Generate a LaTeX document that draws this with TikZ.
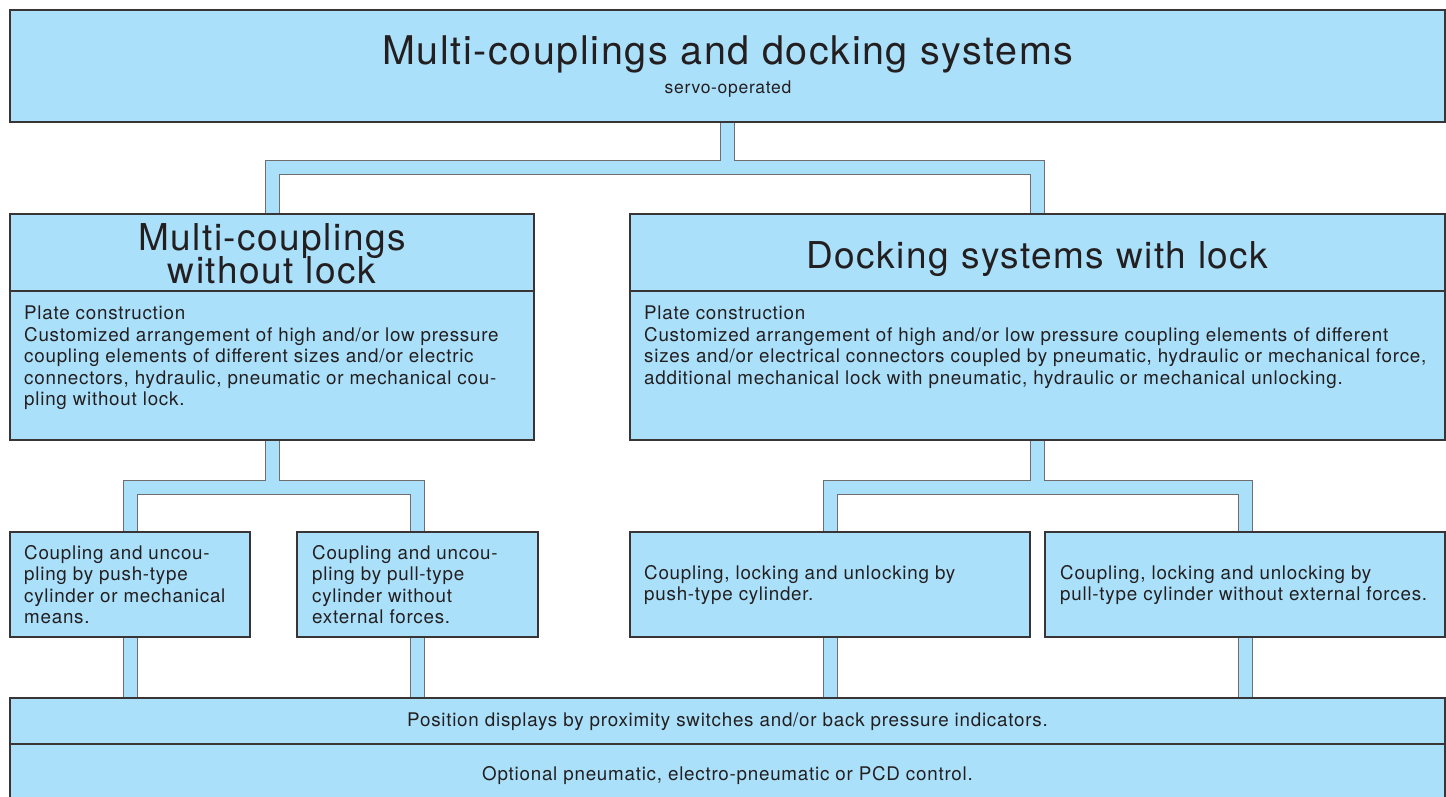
\documentclass[tikz,border=0pt]{standalone}
\usepackage{fontspec}
\setmainfont{TeX Gyre Heros}[LetterSpace=4]
\usepackage{tikz}
\usetikzlibrary{calc,backgrounds}
\definecolor{panelblue}{RGB}{171,224,250}
\definecolor{inkgray}{RGB}{35,31,32}

\begin{document}
\begin{tikzpicture}[x=1pt, y=-1pt,
    box/.style={draw=inkgray!90, line width=1.2pt, fill=panelblue, inner sep=0pt, text=inkgray},
    txt/.style={inner sep=0pt, anchor=north west, align=left, text=inkgray, font=\fontsize{18.8}{21.5}\selectfont},
    head/.style={inner sep=0pt, text=inkgray, align=center, font=\fontsize{37}{33}\selectfont},
    pipe/.style={draw=panelblue, line width=13pt, line join=miter, preaction={draw=inkgray!65, line width=15pt, line join=miter}}
]
\useasboundingbox (0,0) rectangle (1446,797);
\node[box, minimum width=1435pt, minimum height=112pt] (main) at (727.5,66) {};
\node[inner sep=0pt, anchor=base, text=inkgray, font=\fontsize{39.5}{40}\selectfont] (ttl) at (728,65) {Multi-couplings and docking systems};
\node[inner sep=0pt, anchor=base, text=inkgray, font=\fontsize{17.5}{20}\selectfont] (sub) at (728,94) {servo-operated};

\node[box, minimum width=524pt, minimum height=77pt] (hdL) at (272,252.5) {};
\node[box, minimum width=524pt, minimum height=149pt] (bodyL) at (272,365.5) {};
\node[head, anchor=north] (hdLtxt) at (272,223) {Multi-couplings\\[-2.4pt]without lock};
\node[txt] (txtL) at (24,306) {Plate construction\\Customized arrangement of high and/or low pressure\\coupling elements of different sizes and/or electric\\connectors, hydraulic, pneumatic or mechanical cou-\\pling without lock.};

\node[box, minimum width=815pt, minimum height=77pt] (hdR) at (1037.5,252.5) {};
\node[box, minimum width=815pt, minimum height=149pt] (bodyR) at (1037.5,365.5) {};
\node[head, anchor=base] (hdRtxt) at (1037.5,268) {Docking systems with lock};
\node[txt] (txtR) at (644,306) {Plate construction\\Customized arrangement of high and/or low pressure coupling elements of different\\sizes and/or electrical connectors coupled by pneumatic, hydraulic or mechanical force,\\additional mechanical lock with pneumatic, hydraulic or mechanical unlocking.};

\node[box, minimum width=240pt, minimum height=105pt] (push) at (130,584.5) {};
\node[txt] (pushtxt) at (24,545) {Coupling and uncou-\\pling by push-type\\cylinder or mechanical\\means.};
\node[box, minimum width=241pt, minimum height=105pt] (pull) at (417.5,584.5) {};
\node[txt] (pulltxt) at (312,545) {Coupling and uncou-\\pling by pull-type\\cylinder without\\external forces.};
\node[box, minimum width=400pt, minimum height=105pt] (lockpush) at (830,584.5) {};
\node[txt] (lockpushtxt) at (644,565) {Coupling, locking and unlocking by\\push-type cylinder.};
\node[box, minimum width=400pt, minimum height=105pt] (lockpull) at (1245,584.5) {};
\node[txt] (lockpulltxt) at (1060,565) {Coupling, locking and unlocking by\\pull-type cylinder without external forces.};

\node[box, minimum width=1435pt, minimum height=46pt] (pos) at (727.5,721) {};
\node[inner sep=0pt, text=inkgray, font=\fontsize{18.8}{21.5}\selectfont] (postxt) at (727.5,722) {Position displays by proximity switches and/or back pressure indicators.};
\node[box, minimum width=1435pt, minimum height=54pt] (ctrl) at (727.5,771) {};
\node[inner sep=0pt, text=inkgray, font=\fontsize{18.8}{21.5}\selectfont] (ctrltxt) at (727.5,776) {Optional pneumatic, electro-pneumatic or PCD control.};

\begin{scope}[on background layer]
\path (hdL.north) ++(0,-46) coordinate (j1);
\path (bodyL.south) ++(0,47) coordinate (j2);
\path (bodyR.south) ++(0,47) coordinate (j3);
\draw[pipe] (main.south) -- (main.south |- j1) (hdL.north) |- (hdR.north |- j1) -- (hdR.north);
\draw[pipe] (bodyL.south) -- (j2) (push.north) |- (pull.north |- j2) -- (pull.north);
\draw[pipe] (bodyR.south) -- (j3) (lockpush.north) |- (lockpull.north |- j3) -- (lockpull.north);
\draw[pipe] (push.south) -- (push.south |- pos.north) (pull.south) -- (pull.south |- pos.north)
    (lockpush.south) -- (lockpush.south |- pos.north) (lockpull.south) -- (lockpull.south |- pos.north);
\end{scope}
\end{tikzpicture}
\end{document}
